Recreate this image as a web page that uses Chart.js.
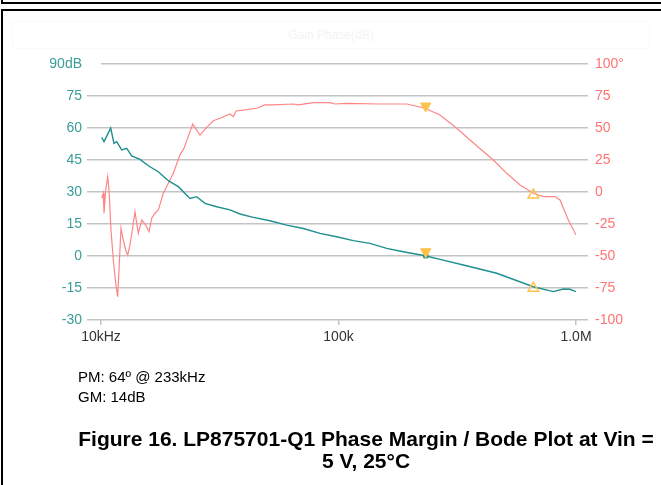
<!DOCTYPE html>
<html>
<head>
<meta charset="utf-8">
<script src="https://cdn.jsdelivr.net/npm/chart.js@4.4.1/dist/chart.umd.min.js"></script>
<style>
    body { margin: 0; background: #fff; font-family: "Liberation Sans", Arial, sans-serif; }
    #page { position: relative; width: 661px; height: 485px; overflow: hidden; }
    #chart-box { position: absolute; left: 0; top: 0; width: 661px; height: 485px; }
    .frame-top { position: absolute; left: 1px; top: -4px; width: 700px; height: 6px; border-left: 2px solid #000; border-bottom: 2px solid #000; }
    .frame-main { position: absolute; left: 1px; top: 9px; width: 700px; height: 600px; border-left: 2px solid #000; border-top: 2px solid #000; }
    .ghost { position: absolute; left: 12px; top: 21px; width: 636px; height: 26px; border: 1px solid #f9f9f9; border-radius: 4px;
             color: #f4f4f4; font-size: 12px; text-align: center; line-height: 26px; }
    .note { position: absolute; left: 78px; font-size: 15px; color: #000; }
    .caption { position: absolute; left: 0; width: 732px; text-align: center; font-weight: bold; font-size: 21px; line-height: 22px; color: #000; white-space: nowrap; }
</style>
</head>
<body>
<div id="page">
    <div class="frame-top"></div>
    <div class="frame-main"></div>
    <div class="ghost">Gain Phase(dB)</div>
    <div id="chart-box"><canvas id="bode"></canvas></div>
    <div class="note" style="top: 368px;">PM: 64º @ 233kHz</div>
    <div class="note" style="top: 388px;">GM: 14dB</div>
    <div class="caption" style="top: 428px;">Figure 16. LP875701-Q1 Phase Margin / Bode Plot at Vin =<br>5 V, 25°C</div>
</div>
<script>
// gain curve (Hz, dB)
const magFreq = [10070, 10295, 10985, 11342, 11643, 12222, 12830, 13465, 14595, 15822, 17430, 19205,
    21160, 23700, 25290, 27410, 30700, 34930, 38480, 43780, 51470, 60520, 71100, 83600, 98260,
    115400, 135700, 159600, 187400, 231300, 267600, 335400, 463600, 661100, 802500, 884300, 943400, 1000000];
const magDb = [55.6, 53.6, 59.9, 52.8, 53.6, 49.7, 50.5, 46.9, 45.3, 42.3, 39.5, 35.3,
    32.5, 27.0, 27.8, 24.7, 23.1, 21.6, 19.7, 18.1, 16.5, 14.5, 12.9, 10.6, 9.0,
    7.2, 5.9, 3.6, 2.0, 0.1, -1.6, -4.2, -8.1, -14.4, -16.7, -15.5, -15.6, -16.7];

// phase curve (Hz, degrees)
const phaseFreq = [10067, 10225, 10295, 10466, 10671, 10806, 11017, 11267, 11531, 11757, 11905, 12138,
    12413, 12706, 12955, 13248, 13547, 13904, 14134, 14356, 14839, 15430, 15930, 16350, 16880,
    17430, 18300, 19205, 20160, 21510, 22360, 24330, 26120, 27870, 29710, 31710, 34930, 36070,
    37020, 40400, 45240, 49030, 53150, 64530, 67730, 78330, 92090, 96670, 108300, 149500, 193800,
    231300, 267600, 314600, 357900, 448600, 510800, 581200, 661100, 728400, 815800, 856400, 928200, 1000000];
const phaseDeg = [-4.9, -1.0, -16.6, 1.6, 12.0, 1.6, -29.7, -53.1, -71.3, -81.8, -60.9, -28.4,
    -37.5, -45.3, -49.2, -41.4, -29.7, -15.4, -24.5, -32.3, -21.9, -25.8, -31.0, -20.5, -16.6,
    -14.1, -1.0, 6.8, 14.6, 29.0, 34.1, 53.0, 44.5, 50.5, 55.7, 57.6, 61.0, 58.9,
    63.3, 64.1, 65.4, 68.0, 68.0, 68.75, 68.0, 69.8, 69.8, 68.75, 69.3, 68.75, 68.75,
    65.4, 60.2, 49.8, 40.6, 25.0, 14.6, 5.5, -1.0, -3.6, -3.6, -6.25, -21.9, -33.6];

// cursor marks: phase margin point and gain margin point
const pmFreq = 233000;
const pmMagMark = 2.0;
const pmPhaseMark = 67.2;
const pmMagDot = 0.1;
const gmFreq = 661000;
const gmMagMark = -15.1;
const gmPhaseMark = -2.3;

const xTickValues = [10000, 100000, 1000000];
const xTickLabels = ['10kHz', '100k', '1.0M'];
const magTickLabels = ['-30', '-15', '0', '15', '30', '45', '60', '75', '90dB'];
const phaseTickLabels = ['-100', '-75', '-50', '-25', '0', '25', '50', '75', '100°'];

const gridGray = '#c4c4c4';
const teal = '#1f8f8f';
const salmon = '#ff8585';
const gold = '#ffc24a';

function points(xs, ys) {
    return xs.map((x, i) => ({ x: x, y: ys[i] }));
}

new Chart(document.getElementById('bode'), {
    type: 'line',
    data: {
        datasets: [
            {
                label: 'PM mark',
                type: 'scatter',
                data: [{ x: pmFreq, y: pmMagMark }],
                yAxisID: 'yMag',
                pointStyle: 'triangle',
                rotation: 180,
                pointRadius: 6,
                backgroundColor: gold,
                borderColor: gold,
                borderWidth: 1
            },
            {
                label: 'PM mark phase',
                type: 'scatter',
                data: [{ x: pmFreq, y: pmPhaseMark }],
                yAxisID: 'yPhase',
                pointStyle: 'triangle',
                rotation: 180,
                pointRadius: 6,
                backgroundColor: gold,
                borderColor: gold,
                borderWidth: 1
            },
            {
                label: 'GM mark',
                type: 'scatter',
                data: [{ x: gmFreq, y: gmMagMark }],
                yAxisID: 'yMag',
                pointStyle: 'triangle',
                pointRadius: 6,
                backgroundColor: 'rgba(255,255,255,0)',
                borderColor: gold,
                borderWidth: 1.5
            },
            {
                label: 'GM mark phase',
                type: 'scatter',
                data: [{ x: gmFreq, y: gmPhaseMark }],
                yAxisID: 'yPhase',
                pointStyle: 'triangle',
                pointRadius: 6,
                backgroundColor: 'rgba(255,255,255,0)',
                borderColor: gold,
                borderWidth: 1.5
            },
            {
                label: 'Gain',
                data: points(magFreq, magDb),
                yAxisID: 'yMag',
                borderColor: teal,
                borderWidth: 1.4,
                pointRadius: 0,
                tension: 0
            },
            {
                label: 'Phase',
                data: points(phaseFreq, phaseDeg),
                yAxisID: 'yPhase',
                borderColor: salmon,
                borderWidth: 1.2,
                pointRadius: 0,
                tension: 0
            },
            {
                label: 'crossover',
                type: 'scatter',
                data: [{ x: pmFreq, y: pmMagDot }],
                yAxisID: 'yMag',
                pointStyle: 'rect',
                pointRadius: 3,
                backgroundColor: teal,
                borderColor: teal
            }
        ]
    },
    options: {
        responsive: true,
        maintainAspectRatio: false,
        animation: false,
        layout: { padding: { top: 64, bottom: 135, left: 0, right: 0 } },
        plugins: {
            legend: { display: false },
            tooltip: { enabled: false }
        },
        scales: {
            x: {
                type: 'logarithmic',
                min: 10000,
                max: 1000000,
                position: 'bottom',
                afterBuildTicks: function(scale) {
                    scale.ticks = xTickValues.map(v => ({ value: v }));
                },
                afterFit: function(scale) { scale.height = 30; },
                border: { display: false },
                grid: { drawOnChartArea: false, drawTicks: true, tickLength: 5, color: gridGray, lineWidth: 1.5 },
                ticks: {
                    color: '#333',
                    font: { size: 14, family: 'Liberation Sans, Arial' },
                    padding: 4,
                    maxRotation: 0,
                    autoSkip: false,
                    callback: function(value) {
                        const i = xTickValues.indexOf(value);
                        return i >= 0 ? xTickLabels[i] : '';
                    }
                }
            },
            yMag: {
                type: 'linear',
                position: 'left',
                min: -30,
                max: 90,
                afterFit: function(scale) { scale.width = 101; },
                border: { display: false },
                grid: {
                    color: gridGray,
                    lineWidth: 1.5,
                    tickLength: 14,
                    tickColor: ctx => ctx.tick && ctx.tick.value === 90 ? 'rgba(0,0,0,0)' : gridGray
                },
                ticks: {
                    stepSize: 15,
                    color: '#3a9c9c',
                    padding: 5,
                    font: { size: 14, family: 'Liberation Sans, Arial' },
                    callback: function(value) {
                        return magTickLabels[Math.round((value + 30) / 15)];
                    }
                }
            },
            yPhase: {
                type: 'linear',
                position: 'right',
                min: -100,
                max: 100,
                afterFit: function(scale) { scale.width = 85; },
                border: { display: false },
                grid: { drawOnChartArea: false, color: gridGray, lineWidth: 1.5, tickLength: 12 },
                ticks: {
                    stepSize: 25,
                    color: '#ff7373',
                    padding: 7,
                    font: { size: 14, family: 'Liberation Sans, Arial' },
                    callback: function(value) {
                        return phaseTickLabels[Math.round((value + 100) / 25)];
                    }
                }
            }
        }
    }
});
</script>
</body>
</html>
